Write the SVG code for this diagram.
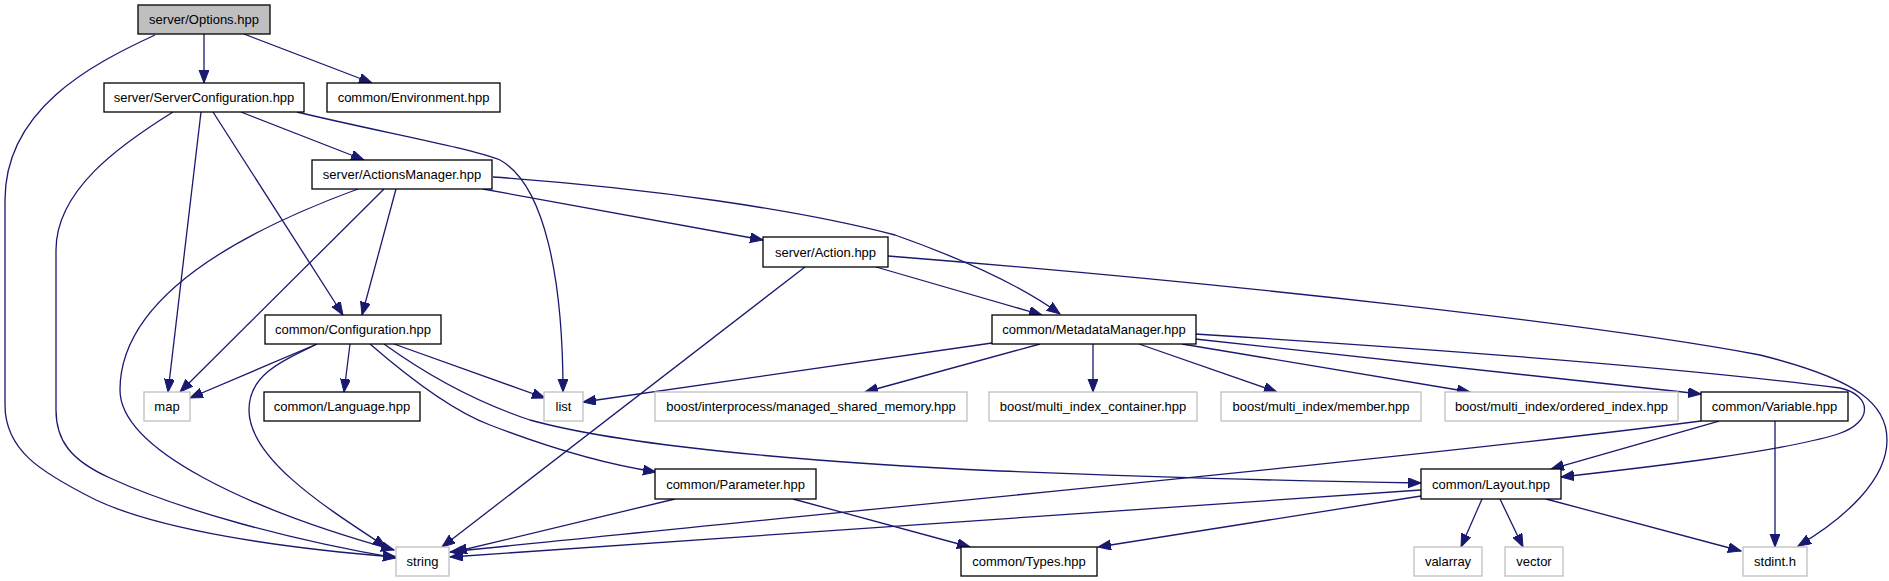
<svg xmlns="http://www.w3.org/2000/svg" width="1889" height="581" viewBox="0 0 1889 581">
<style>
.n rect{fill:#fff;stroke:#000;stroke-width:1.3}
.x rect{fill:#fff;stroke:#bfbfbf;stroke-width:1.3}
.r rect{fill:#bfbfbf;stroke:#000;stroke-width:1.3}
text{font-family:"Liberation Sans",Arial,sans-serif;font-size:13px;fill:#000;text-anchor:middle}
#edges path{fill:none;stroke:#191970;stroke-width:1.3;marker-end:url(#ah)}
</style>
<defs>
<marker id="ah" markerUnits="userSpaceOnUse" markerWidth="15" markerHeight="12" refX="13" refY="5" orient="auto">
<path d="M0,0 L13,5 L0,10 z" fill="#191970" stroke="#191970" stroke-width="1"/>
</marker>
</defs>
<rect width="1889" height="581" fill="#fff"/>
<g id="edges">
<path d="M204,34 L204,83"/>
<path d="M244,34 L372,83"/>
<path d="M155,35 C90,65 5,110 5,200 L5,405 C5,450 40,472 96,500 C160,530 280,548 396,557"/>
<path d="M241,112 L364,160"/>
<path d="M297,112 C380,132 470,148 500,160 C545,185 563,280 563,392"/>
<path d="M201,112 L168,392"/>
<path d="M213,112 L343,315"/>
<path d="M173,112 C120,145 56,190 56,250 L56,410 C56,440 70,460 110,478 C180,510 290,540 396,558"/>
<path d="M396,189 L362,315"/>
<path d="M384,189 L180,392"/>
<path d="M358,189 C260,225 120,290 120,390 C120,450 250,510 394,550"/>
<path d="M483,189 L763,240"/>
<path d="M493,177 C650,188 800,210 895,235 C960,258 1020,285 1060,314"/>
<path d="M876,267 L1042,315"/>
<path d="M805,267 L442,547"/>
<path d="M888,256 C1250,285 1600,325 1760,355 C1860,380 1887,405 1887,440 C1887,480 1845,518 1798,546"/>
<path d="M317,344 L190,398"/>
<path d="M350,344 L344,392"/>
<path d="M394,344 L545,398"/>
<path d="M317,344 C280,362 249,375 249,410 C249,460 330,510 386,547"/>
<path d="M370,344 C400,370 450,410 490,425 C560,452 610,465 656,472"/>
<path d="M384,344 C420,370 470,400 530,420 C620,445 800,462 1000,471 C1200,479 1350,482 1421,483"/>
<path d="M992,343 L583,402"/>
<path d="M1040,344 L865,392"/>
<path d="M1093,344 L1093,392"/>
<path d="M1139,344 L1277,392"/>
<path d="M1182,344 L1470,392"/>
<path d="M1195,339 L1701,394"/>
<path d="M1195,334 C1450,350 1700,370 1840,388 C1872,395 1874,422 1838,434 C1780,452 1650,467 1561,477"/>
<path d="M1719,421 L1551,469"/>
<path d="M1701,421 C1400,460 800,515 450,552"/>
<path d="M1775,421 L1775,547"/>
<path d="M675,499 L454,552"/>
<path d="M793,499 L970,547"/>
<path d="M1421,490 L450,557"/>
<path d="M1421,496 L1098,547"/>
<path d="M1482,499 L1461,547"/>
<path d="M1500,499 L1523,547"/>
<path d="M1546,499 L1741,551"/>
</g>
<g id="n_options" class="r"><rect x="138" y="5" width="132" height="29"/><text x="204" y="24">server/Options.hpp</text></g>
<g id="n_serverconfiguration" class="n"><rect x="104" y="83" width="200" height="29"/><text x="204" y="102">server/ServerConfiguration.hpp</text></g>
<g id="n_environment" class="n"><rect x="327" y="83" width="173" height="29"/><text x="413.5" y="102">common/Environment.hpp</text></g>
<g id="n_actionsmanager" class="n"><rect x="312" y="160" width="180" height="29"/><text x="402" y="179">server/ActionsManager.hpp</text></g>
<g id="n_action" class="n"><rect x="763" y="237" width="125" height="30"/><text x="825.5" y="256.5">server/Action.hpp</text></g>
<g id="n_configuration" class="n"><rect x="265" y="315" width="176" height="29"/><text x="353" y="334">common/Configuration.hpp</text></g>
<g id="n_metadatamanager" class="n"><rect x="992" y="315" width="204" height="29"/><text x="1094" y="334">common/MetadataManager.hpp</text></g>
<g id="n_map" class="x"><rect x="144" y="392" width="46" height="29"/><text x="167" y="411">map</text></g>
<g id="n_language" class="n"><rect x="264" y="392" width="156" height="29"/><text x="342" y="411">common/Language.hpp</text></g>
<g id="n_list" class="x"><rect x="544" y="392" width="39" height="29"/><text x="563.5" y="411">list</text></g>
<g id="n_managed_shared_memory" class="x"><rect x="655" y="392" width="312" height="29"/><text x="811" y="411">boost/interprocess/managed_shared_memory.hpp</text></g>
<g id="n_multi_index_container" class="x"><rect x="989" y="392" width="208" height="29"/><text x="1093" y="411">boost/multi_index_container.hpp</text></g>
<g id="n_member" class="x"><rect x="1221" y="392" width="200" height="29"/><text x="1321" y="411">boost/multi_index/member.hpp</text></g>
<g id="n_ordered_index" class="x"><rect x="1445" y="392" width="233" height="29"/><text x="1561.5" y="411">boost/multi_index/ordered_index.hpp</text></g>
<g id="n_variable" class="n"><rect x="1701" y="392" width="147" height="29"/><text x="1774.5" y="411">common/Variable.hpp</text></g>
<g id="n_parameter" class="n"><rect x="655" y="469" width="161" height="30"/><text x="735.5" y="488.5">common/Parameter.hpp</text></g>
<g id="n_layout" class="n"><rect x="1421" y="469" width="140" height="30"/><text x="1491" y="488.5">common/Layout.hpp</text></g>
<g id="n_string" class="x"><rect x="396" y="547" width="53" height="29"/><text x="422.5" y="566">string</text></g>
<g id="n_types" class="n"><rect x="961" y="547" width="136" height="29"/><text x="1029" y="566">common/Types.hpp</text></g>
<g id="n_valarray" class="x"><rect x="1414" y="547" width="68" height="29"/><text x="1448" y="566">valarray</text></g>
<g id="n_vector" class="x"><rect x="1505" y="547" width="58" height="29"/><text x="1534" y="566">vector</text></g>
<g id="n_stdint" class="x"><rect x="1743" y="547" width="64" height="29"/><text x="1775" y="566">stdint.h</text></g>
</svg>
